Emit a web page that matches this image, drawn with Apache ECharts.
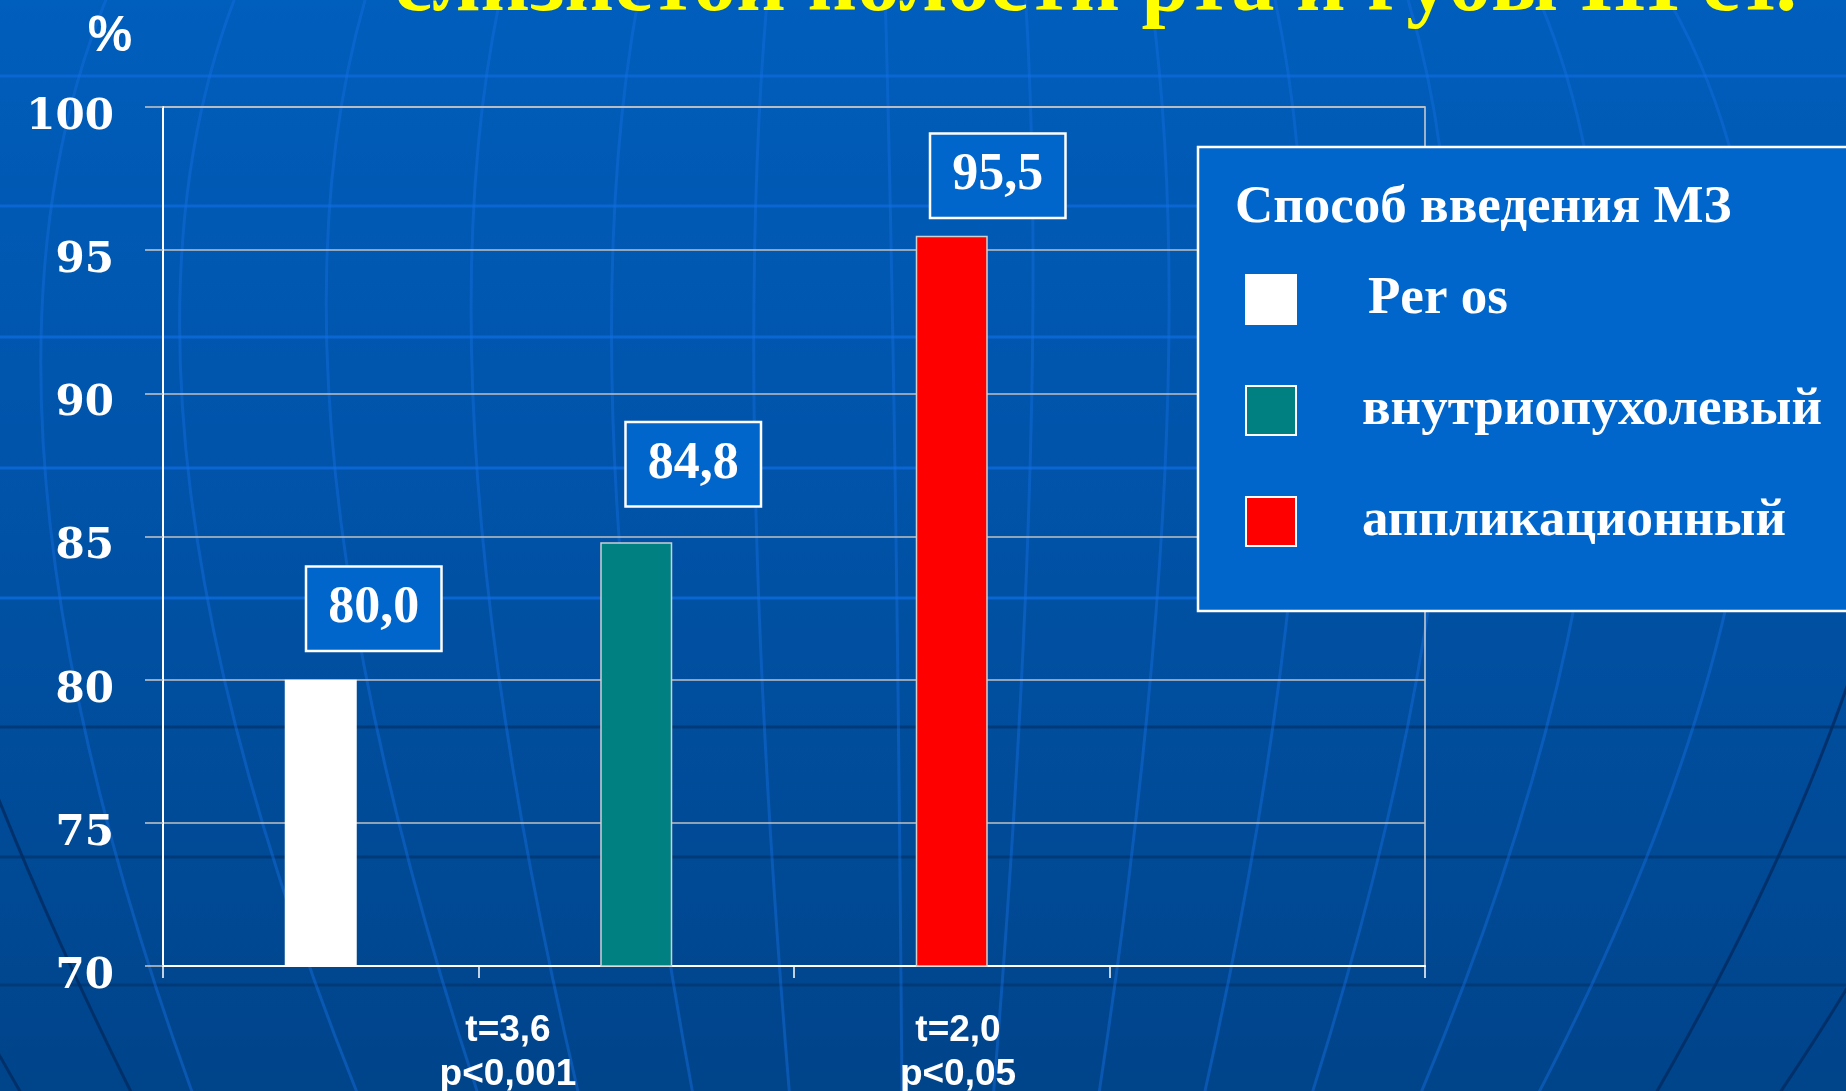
<!DOCTYPE html>
<html>
<head>
<meta charset="utf-8">
<script src="https://cdn.jsdelivr.net/npm/echarts@6/dist/echarts.min.js"></script>
<style>
  html, body { margin: 0; padding: 0; background: #0052a6; overflow: hidden; }
  #chart { width: 1846px; height: 1091px; }
</style>
</head>
<body>
<div id="chart"></div>
<script>
// ---- data ----
const slots = ['', '', '', ''];                       // four category slots on the x axis
const methods = ['Per os', 'внутриопухолевый', 'аппликационный'];
const values = [80.0, 84.8, 95.5];                    // % per administration method
const yRange = [70, 100];
const yStep = 5;
const tests = ['t=3,6\np<0,001', 't=2,0\np<0,05'];
const legendTitle = 'Способ введения МЗ';
const heading = 'слизистой полости рта и губы III ст.';
const axisUnit = '%';

// ---- styling ----
const barColors = ['#ffffff', '#008080', '#ff0000'];
const labelShift = [[53, 30], [57, 37], [46, 19]];    // [dx, gap above bar] for value boxes
const testPos = [[508, 1009], [958, 1009]];

const fmt = v => v.toFixed(1).replace('.', ',');

// decorative globe grid behind the chart
const decor = [];
[76, 206, 337, 468, 598].forEach(y => decor.push({
  type: 'line', silent: true, z: -10,
  shape: { x1: 0, y1: y, x2: 1846, y2: y },
  style: { stroke: '#0a66d2', lineWidth: 3 }
}));
[727, 857, 985].forEach(y => decor.push({
  type: 'line', silent: true, z: -10,
  shape: { x1: 0, y1: y, x2: 1846, y2: y },
  style: { stroke: '#003a78', lineWidth: 3 }
}));
// meridians: [x at top, x at middle, x at bottom, dark?]
const meridians = [
  [-300, -260, 25, true], [-140, -110, 135, true],
  [110, 45, 195], [238, 188, 360], [368, 335, 480], [502, 477, 580],
  [640, 615, 694], [768, 755, 790], [885, 895, 902], [1025, 1030, 993],
  [1150, 1165, 1098], [1273, 1300, 1203], [1405, 1445, 1310],
  [1535, 1595, 1418], [1663, 1750, 1535],
  [1850, 1905, 1652, true], [1960, 2060, 1775, true]
];
meridians.forEach(([xt, xm, xb, dark]) => {
  const y0 = -10, ym = 470, y1 = 1100;
  decor.push({
    type: 'bezierCurve', silent: true, z: -9,
    shape: {
      x1: xt, y1: y0, x2: xb, y2: y1,
      cpx1: 2 * xm - (xt + xb) / 2, cpy1: 2 * ym - (y0 + y1) / 2
    },
    style: { stroke: dark ? 'rgba(0,45,100,0.85)' : 'rgba(20,110,225,0.45)', lineWidth: 3, fill: null }
  });
});

const chart = echarts.init(document.getElementById('chart'), null, { renderer: 'canvas' });

const series = methods.map((name, i) => ({
  name,
  type: 'bar',
  barWidth: 72,
  barGap: '-100%',
  data: slots.map((_, j) => (j === i ? values[i] : '-')),
  itemStyle: { color: barColors[i], borderColor: i === 0 ? '#ffffff' : '#cfcfcf', borderWidth: 1.5 },
  label: {
    show: true,
    position: 'top',
    distance: labelShift[i][1],
    offset: [labelShift[i][0], 0],
    formatter: p => fmt(p.value),
    color: '#ffffff',
    fontFamily: 'Liberation Serif',
    fontWeight: 'bold',
    fontSize: 52,
    lineHeight: 56,
    backgroundColor: '#0066cc',
    borderColor: '#ffffff',
    borderWidth: 2.5,
    padding: [13, 21, 13, 21]
  }
}));

const option = {
  backgroundColor: {
    type: 'linear', x: 0, y: 0, x2: 0, y2: 1,
    colorStops: [
      { offset: 0, color: '#005ebc' },
      { offset: 0.5, color: '#0052a6' },
      { offset: 1, color: '#00448a' }
    ]
  },
  animation: false,
  grid: {
    left: 163, right: 421, top: 107, bottom: 125,
    show: true, borderColor: '#d0d0d0', borderWidth: 1.5
  },
  xAxis: {
    type: 'category',
    data: slots,
    axisLine: { lineStyle: { color: '#ffffff', width: 2 } },
    axisTick: { show: true, interval: 0, length: 12, lineStyle: { color: '#ffffff', width: 1.5 } },
    axisLabel: { show: false },
    splitLine: { show: false }
  },
  yAxis: {
    type: 'value',
    min: yRange[0], max: yRange[1], interval: yStep,
    name: axisUnit,
    nameLocation: 'end',
    nameGap: 45,
    nameTextStyle: {
      color: '#ffffff', fontFamily: 'Liberation Sans', fontWeight: 'bold', fontSize: 50,
      padding: [0, 106, 0, 0]
    },
    axisLine: { show: true, lineStyle: { color: '#ffffff', width: 2 } },
    axisTick: { show: true, length: 18, lineStyle: { color: '#c8c8c8', width: 1.5 } },
    axisLabel: {
      color: '#ffffff', fontFamily: 'DejaVu Serif', fontWeight: 'bold', fontSize: 42,
      margin: 49, verticalAlign: 'top', lineHeight: 22
    },
    splitLine: { lineStyle: { color: '#c0c0c0', width: 1.5 } }
  },
  legend: {
    orient: 'vertical',
    left: 1240, top: 268,
    itemWidth: 50, itemHeight: 49, itemGap: 58,
    icon: 'rect',
    z: 10,
    data: methods,
    formatter: name => (name === methods[0] ? '{lead|}' + name : name),
    itemStyle: { borderColor: '#ffffff', borderWidth: 2 },
    textStyle: {
      color: '#ffffff', fontFamily: 'Liberation Serif', fontWeight: 'bold', fontSize: 53,
      lineHeight: 49, padding: [0, 0, 0, 61],
      rich: { lead: { width: 6 } }
    }
  },
  graphic: [
    ...decor,
    {
      type: 'text', silent: true, z: 20,
      style: {
        text: heading, x: 394, y: -12,
        font: 'bold 86px "Liberation Serif"', fill: '#ffff00',
        align: 'left', verticalAlign: 'middle', textAlign: 'left', textVerticalAlign: 'middle'
      }
    },
    {
      type: 'rect', silent: true, z: 5,
      shape: { x: 1198, y: 147, width: 720, height: 464 },
      style: { fill: '#0066cc', stroke: '#ffffff', lineWidth: 2.5 }
    },
    {
      type: 'text', silent: true, z: 11,
      style: {
        text: legendTitle, x: 1235, y: 208,
        font: 'bold 53px "Liberation Serif"', fill: '#ffffff',
        align: 'left', verticalAlign: 'middle', textAlign: 'left', textVerticalAlign: 'middle'
      }
    },
    ...tests.map((t, i) => ({
      type: 'text', silent: true, z: 11,
      style: {
        text: t, x: testPos[i][0], y: testPos[i][1],
        font: 'bold 37px "Liberation Sans"', fill: '#ffffff', lineHeight: 44,
        align: 'center', verticalAlign: 'top', textAlign: 'center', textVerticalAlign: 'top'
      }
    }))
  ],
  series
};

chart.setOption(option);
</script>
</body>
</html>
